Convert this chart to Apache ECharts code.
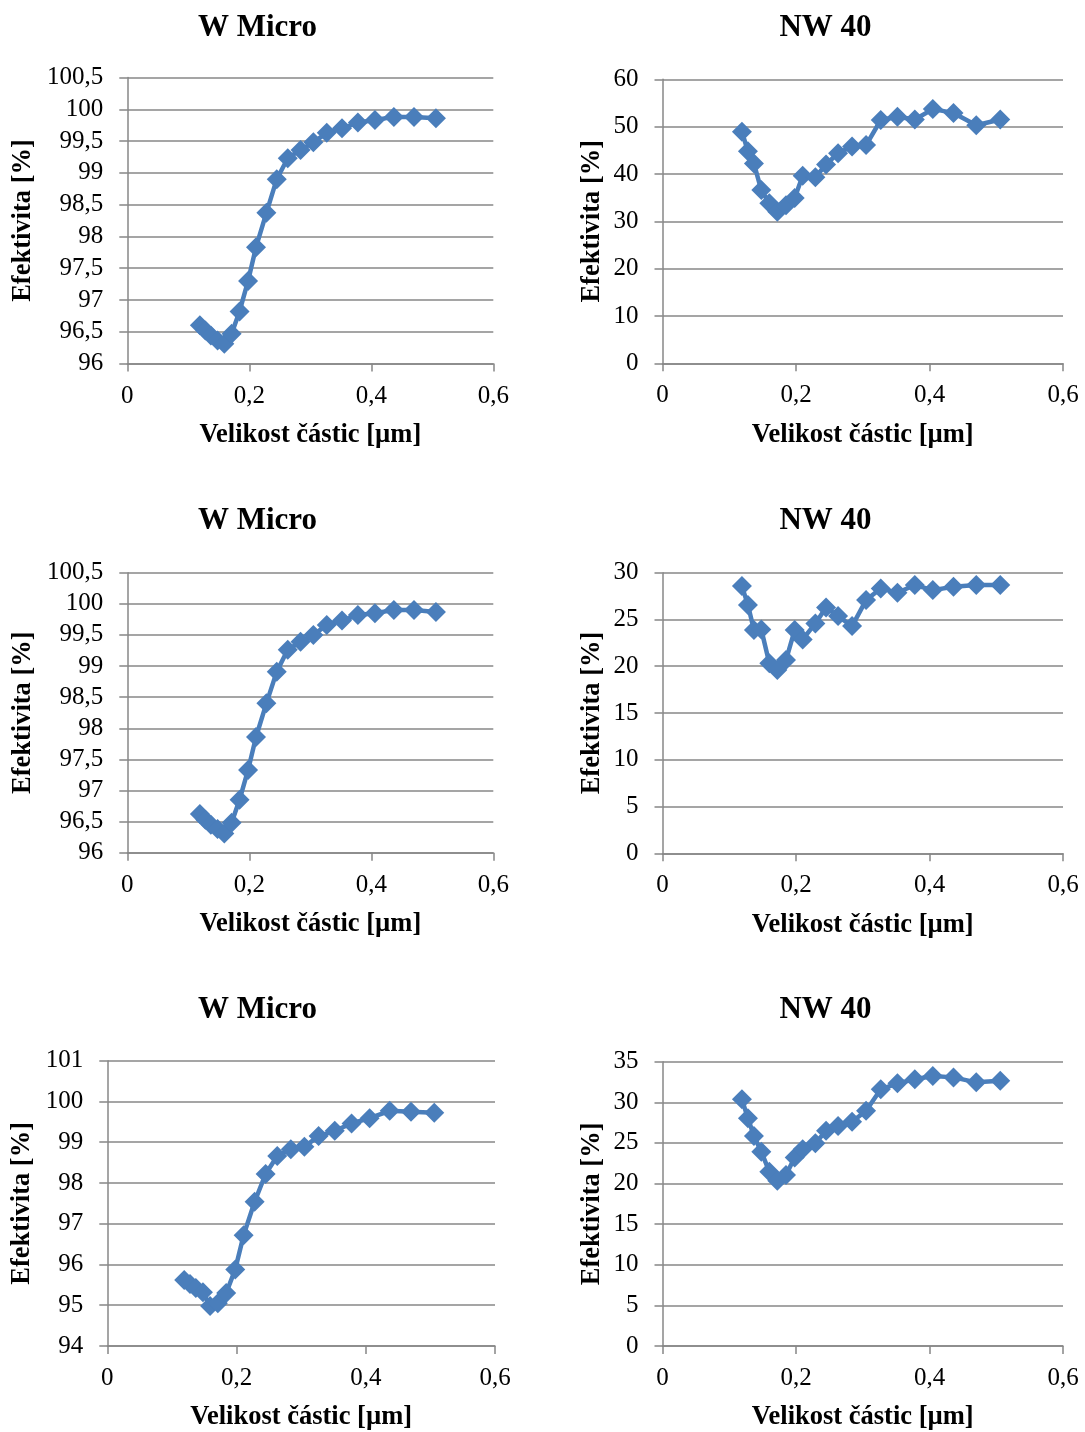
<!DOCTYPE html>
<html>
<head>
<meta charset="utf-8">
<script src="https://cdn.jsdelivr.net/npm/echarts@6/dist/echarts.min.js"></script>
<style>
html,body{margin:0;padding:0;background:#fff;}
#c{width:1085px;height:1432px;}
</style>
</head>
<body>
<div id="c"></div>
<script>
// ---- data ----
var titles = ['W Micro', 'NW 40', 'W Micro', 'NW 40', 'W Micro', 'NW 40'];
var xName = 'Velikost částic [µm]';
var yName = 'Efektivita [%]';
var xTicks = [0, 0.2, 0.4, 0.6];

var sizeWMicro = [0.119, 0.128, 0.137, 0.148, 0.159, 0.171, 0.184, 0.198, 0.211, 0.228, 0.245, 0.263, 0.284, 0.305, 0.327, 0.352, 0.378, 0.406, 0.437, 0.470, 0.506];
var sizeNW40   = [0.119, 0.128, 0.137, 0.148, 0.160, 0.172, 0.185, 0.198, 0.210, 0.229, 0.245, 0.263, 0.284, 0.305, 0.327, 0.352, 0.378, 0.405, 0.436, 0.470, 0.506];

var effWMicro1 = [96.60, 96.52, 96.44, 96.36, 96.31, 96.47, 96.82, 97.30, 97.83, 98.37, 98.90, 99.23, 99.36, 99.48, 99.63, 99.70, 99.79, 99.83, 99.88, 99.88, 99.86];
var effNW40_1  = [48.9, 44.8, 42.2, 36.6, 33.8, 32.0, 33.4, 34.9, 39.6, 39.3, 42.0, 44.4, 45.8, 46.1, 51.4, 52.1, 51.5, 53.7, 52.9, 50.3, 51.5];
var effWMicro2 = [96.62, 96.53, 96.45, 96.38, 96.31, 96.48, 96.85, 97.33, 97.86, 98.40, 98.91, 99.26, 99.39, 99.50, 99.66, 99.73, 99.82, 99.85, 99.90, 99.90, 99.87];
var effNW40_2  = [28.57, 26.54, 23.87, 23.94, 20.31, 19.59, 20.66, 23.87, 22.87, 24.58, 26.29, 25.36, 24.29, 27.07, 28.32, 27.85, 28.68, 28.14, 28.50, 28.68, 28.68];
var effWMicro3 = [95.62, 95.52, 95.42, 95.32, 94.98, 95.05, 95.30, 95.88, 96.72, 97.54, 98.22, 98.66, 98.83, 98.89, 99.15, 99.28, 99.46, 99.59, 99.77, 99.75, 99.72];
var effNW40_3  = [30.37, 28.03, 25.85, 23.92, 21.46, 20.35, 21.05, 23.22, 24.21, 24.95, 26.50, 27.08, 27.61, 28.97, 31.60, 32.34, 32.83, 33.23, 33.07, 32.46, 32.66];

var yMin = [96, 0, 96, 0, 94, 0];
var yMax = [100.5, 60, 100.5, 30, 101, 35];
var yStep = [0.5, 10, 0.5, 5, 1, 5];

// ---- layout ----
var panels = [
  {x: sizeWMicro, y: effWMicro1, left: 127.3, top: 77.5, width: 366, height: 286, yGap: 91, tx: 257.5, ty: 28},
  {x: sizeNW40,   y: effNW40_1,  left: 662.5, top: 79.3, width: 400.5, height: 284, yGap: 57, tx: 825.5, ty: 28},
  {x: sizeWMicro, y: effWMicro2, left: 127.3, top: 572.7, width: 366, height: 280, yGap: 91, tx: 257.5, ty: 521},
  {x: sizeNW40,   y: effNW40_2,  left: 662.5, top: 572.7, width: 400.5, height: 280.6, yGap: 57, tx: 825.5, ty: 521},
  {x: sizeWMicro, y: effWMicro3, left: 107.3, top: 1060.7, width: 387.7, height: 285.3, yGap: 72, tx: 257.5, ty: 1010},
  {x: sizeNW40,   y: effNW40_3,  left: 662.5, top: 1061.7, width: 400.5, height: 284.3, yGap: 57, tx: 825.5, ty: 1010}
];

var FONT = '"Liberation Serif", "Times New Roman", serif';
var GRAY = '#878787';
var BLUE = '#4A7EBB';

function fmt(v) {
  var r = Math.round(v * 1000) / 1000;
  return String(r).replace('.', ',');
}

var grids = [], xAxes = [], yAxes = [], series = [], graphics = [];
panels.forEach(function (p, i) {
  grids.push({left: p.left, top: p.top, width: p.width, height: p.height, containLabel: false});
  xAxes.push({
    type: 'value', gridIndex: i, min: xTicks[0], max: xTicks[xTicks.length - 1], interval: 0.2,
    name: xName, nameLocation: 'middle', nameGap: 58,
    nameTextStyle: {fontFamily: FONT, fontWeight: 'bold', fontSize: 26.5, color: '#000'},
    axisLine: {show: true, lineStyle: {color: GRAY, width: 1.5}},
    axisTick: {show: true, length: 8, lineStyle: {color: GRAY, width: 1.5}},
    axisLabel: {fontFamily: FONT, fontSize: 25, color: '#000', margin: 20, formatter: fmt},
    splitLine: {show: false}
  });
  yAxes.push({
    type: 'value', gridIndex: i, min: yMin[i], max: yMax[i], interval: yStep[i],
    name: yName, nameLocation: 'middle', nameGap: p.yGap,
    nameTextStyle: {fontFamily: FONT, fontWeight: 'bold', fontSize: 26.5, color: '#000'},
    axisLine: {show: true, lineStyle: {color: GRAY, width: 1.5}},
    axisTick: {show: true, length: 8, lineStyle: {color: GRAY, width: 1.5}},
    axisLabel: {fontFamily: FONT, fontSize: 25, color: '#000', margin: 24, formatter: fmt},
    splitLine: {show: true, lineStyle: {color: GRAY, width: 1.5}}
  });
  var data = p.x.map(function (xv, k) { return [xv, p.y[k]]; });
  series.push({
    type: 'line', xAxisIndex: i, yAxisIndex: i, data: data,
    symbol: 'diamond', symbolSize: 20, showSymbol: true,
    lineStyle: {color: BLUE, width: 4.5},
    itemStyle: {color: BLUE},
    animation: false, silent: true
  });
  graphics.push({
    type: 'text', x: p.tx, y: p.ty,
    style: {text: titles[i], font: 'bold 31px ' + FONT, fill: '#000', textAlign: 'center', textVerticalAlign: 'middle'}
  });
});

var chart = echarts.init(document.getElementById('c'), null, {renderer: 'canvas'});
chart.setOption({
  backgroundColor: '#fff',
  animation: false,
  grid: grids,
  xAxis: xAxes,
  yAxis: yAxes,
  series: series,
  graphic: graphics
});
</script>
</body>
</html>
